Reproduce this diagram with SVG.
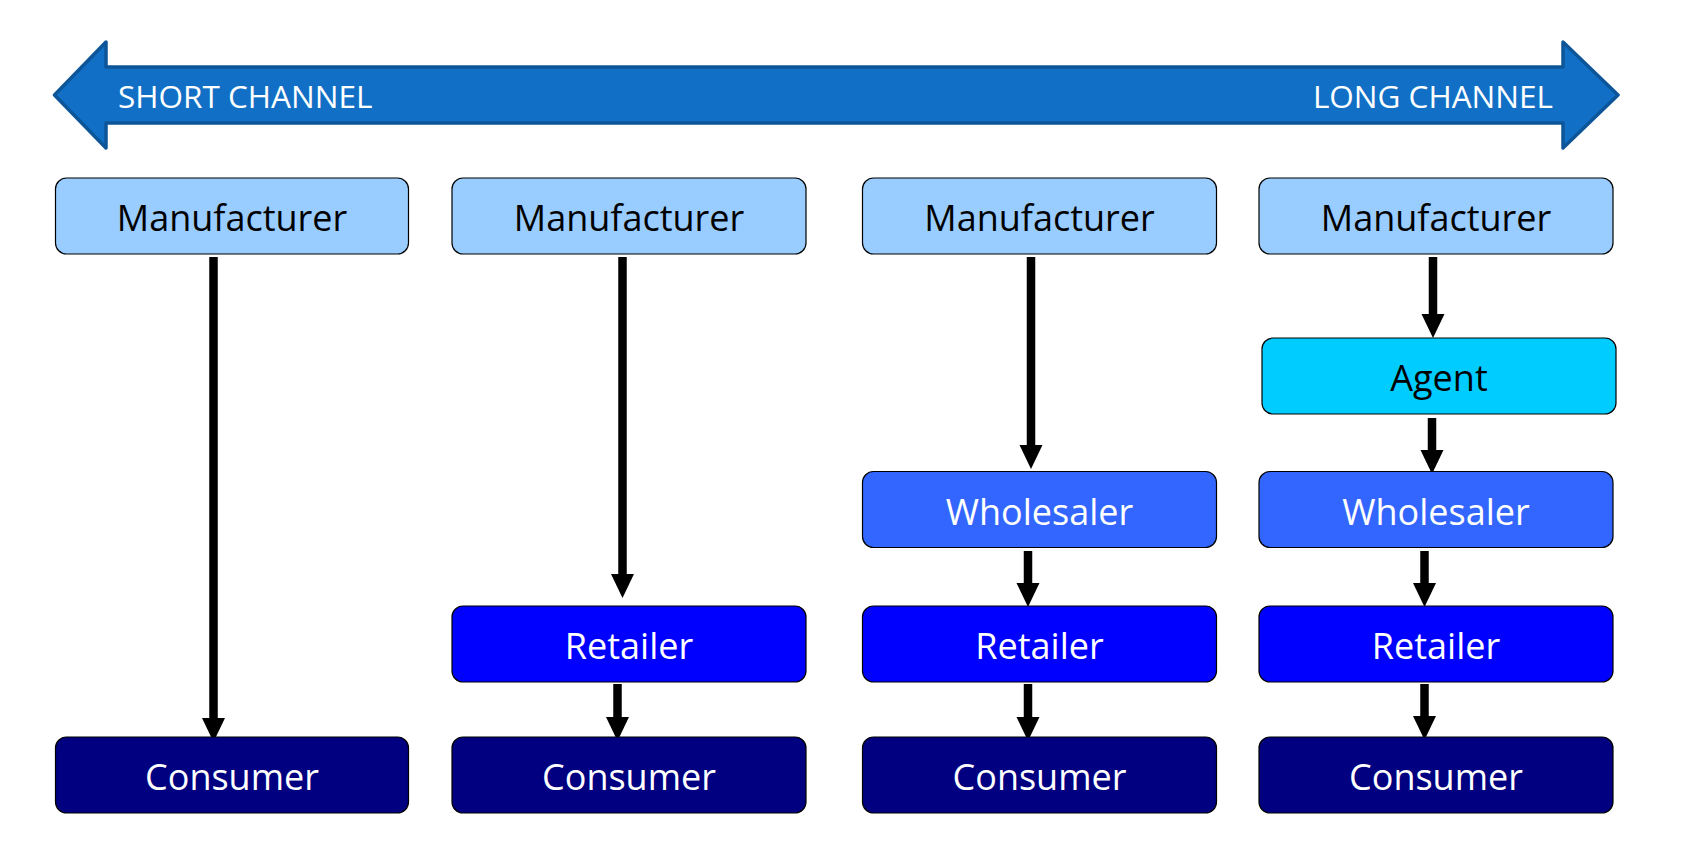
<svg xmlns="http://www.w3.org/2000/svg" width="1708" height="850" viewBox="0 0 1708 850">
<style>
.box{stroke:#000;stroke-width:1.2}
.t{font-family:"Open Sans","Noto Sans","Liberation Sans",sans-serif;font-size:36px;text-anchor:middle}
.dark{fill:#000}
.light{fill:#fff}
.mf{fill:#99CCFF}
.ag{fill:#00CCFF}
.wh{fill:#3366FF}
.rt{fill:#0000FF}
.cn{fill:#000080}
.conn line{stroke:#000;stroke-width:8.5;marker-end:url(#ah)}
.band{font-family:"Open Sans","Noto Sans","Liberation Sans",sans-serif;font-size:31.5px;fill:#fff}
</style>
<defs>
<marker id="ah" markerUnits="userSpaceOnUse" markerWidth="24" markerHeight="23" refX="0" refY="11.5" orient="auto" overflow="visible">
<path d="M0,0 L24,11.5 L0,23 Z" fill="#000"/>
</marker>
</defs>
<rect width="1708" height="850" fill="#fff"/>
<g id="channel-arrow">
<path d="M54.5,95 L106,42 L106,67 L1563,67 L1563,42 L1618,95 L1563,148 L1563,123 L106,123 L106,148 Z" fill="#1170C6" stroke="#0C5599" stroke-width="3.5" stroke-linejoin="round"/>
<text class="band" x="118" y="108">SHORT CHANNEL</text>
<text class="band" x="1553" y="108" text-anchor="end">LONG CHANNEL</text>
</g>
<g id="connectors" class="conn">
<line x1="213.5" y1="257" x2="213.5" y2="718"/>
<line x1="622.5" y1="257" x2="622.5" y2="574"/>
<line x1="617.5" y1="684" x2="617.5" y2="717"/>
<line x1="1031" y1="257" x2="1031" y2="445"/>
<line x1="1028" y1="551" x2="1028" y2="583"/>
<line x1="1028" y1="684" x2="1028" y2="717"/>
<line x1="1433" y1="257" x2="1433" y2="314"/>
<line x1="1432" y1="418" x2="1432" y2="450"/>
<line x1="1424.5" y1="551" x2="1424.5" y2="583"/>
<line x1="1424.5" y1="684" x2="1424.5" y2="716"/>
</g>
<g id="c1-manufacturer"><rect class="box mf" x="55.5" y="178" width="353" height="76" rx="11"/><text class="t dark" x="232" y="231">Manufacturer</text></g>
<g id="c1-consumer"><rect class="box cn" x="55.5" y="737" width="353" height="76" rx="11"/><text class="t light" x="232" y="790">Consumer</text></g>
<g id="c2-manufacturer"><rect class="box mf" x="452" y="178" width="354" height="76" rx="11"/><text class="t dark" x="629" y="231">Manufacturer</text></g>
<g id="c2-retailer"><rect class="box rt" x="452" y="606" width="354" height="76" rx="11"/><text class="t light" x="629" y="659">Retailer</text></g>
<g id="c2-consumer"><rect class="box cn" x="452" y="737" width="354" height="76" rx="11"/><text class="t light" x="629" y="790">Consumer</text></g>
<g id="c3-manufacturer"><rect class="box mf" x="862.5" y="178" width="354" height="76" rx="11"/><text class="t dark" x="1039.5" y="231">Manufacturer</text></g>
<g id="c3-wholesaler"><rect class="box wh" x="862.5" y="471.5" width="354" height="76" rx="11"/><text class="t light" x="1039.5" y="524.5">Wholesaler</text></g>
<g id="c3-retailer"><rect class="box rt" x="862.5" y="606" width="354" height="76" rx="11"/><text class="t light" x="1039.5" y="659">Retailer</text></g>
<g id="c3-consumer"><rect class="box cn" x="862.5" y="737" width="354" height="76" rx="11"/><text class="t light" x="1039.5" y="790">Consumer</text></g>
<g id="c4-manufacturer"><rect class="box mf" x="1259" y="178" width="354" height="76" rx="11"/><text class="t dark" x="1436" y="231">Manufacturer</text></g>
<g id="c4-agent"><rect class="box ag" x="1262" y="338" width="354" height="76" rx="11"/><text class="t dark" x="1439" y="391">Agent</text></g>
<g id="c4-wholesaler"><rect class="box wh" x="1259" y="471.5" width="354" height="76" rx="11"/><text class="t light" x="1436" y="524.5">Wholesaler</text></g>
<g id="c4-retailer"><rect class="box rt" x="1259" y="606" width="354" height="76" rx="11"/><text class="t light" x="1436" y="659">Retailer</text></g>
<g id="c4-consumer"><rect class="box cn" x="1259" y="737" width="354" height="76" rx="11"/><text class="t light" x="1436" y="790">Consumer</text></g>
</svg>
